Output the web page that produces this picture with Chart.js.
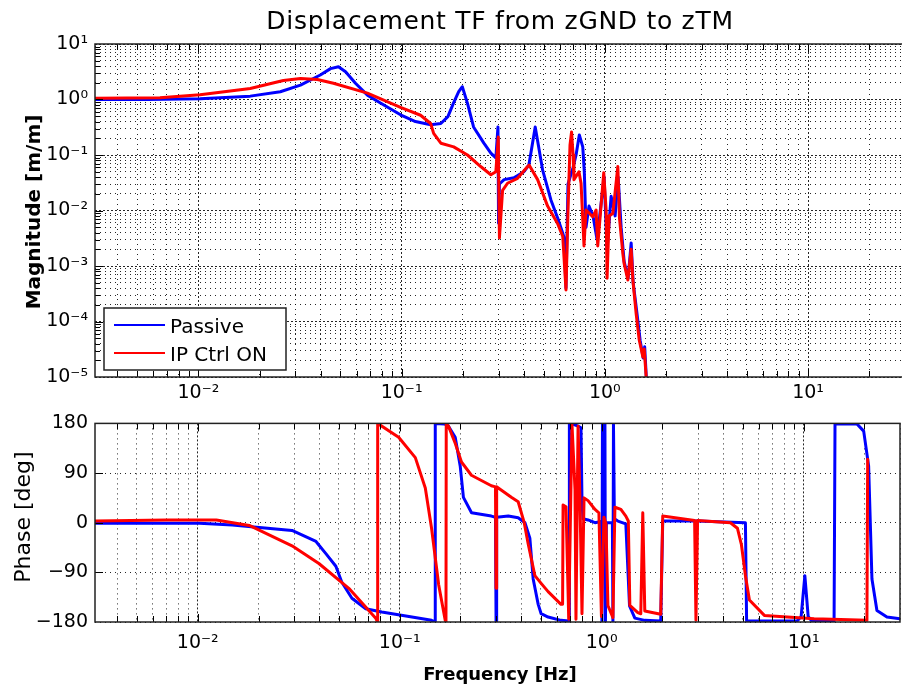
<!DOCTYPE html>
<html>
<head>
<meta charset="UTF-8">
<title>Displacement TF from zGND to zTM</title>
<script src="https://cdn.jsdelivr.net/npm/chart.js"></script>
<style>
    html, body { margin: 0; padding: 0; background: #fff; overflow: hidden; }
    #wrap { position: relative; width: 902px; height: 688px; overflow: hidden; }
    canvas { position: absolute; left: 0; }
    #magChart { top: 0; }
    #phaseChart { top: 405px; }
</style>
</head>
<body>
<div id="wrap">
    <canvas id="magChart" width="910" height="405"></canvas>
    <canvas id="phaseChart" width="910" height="283"></canvas>
</div>
<script>
// ---- data ----
const freqMin = 0.0031;
const freqMax = 30;

// magnitude, Passive
const passiveMagFreq = [0.0031, 0.0056, 0.0102, 0.018, 0.0253, 0.0318, 0.0398, 0.0447, 0.0489, 0.053, 0.0593, 0.0679, 0.0787, 0.0988, 0.117, 0.139, 0.156, 0.169, 0.18, 0.191, 0.199, 0.211, 0.226, 0.254, 0.275, 0.291, 0.298, 0.300, 0.303, 0.3195, 0.357, 0.400, 0.423, 0.441, 0.4545, 0.469, 0.494, 0.543, 0.586, 0.621, 0.629, 0.644, 0.659, 0.698, 0.722, 0.749, 0.779, 0.793, 0.808, 0.836, 0.875, 0.916, 0.958, 0.992, 1.026, 1.074, 1.124, 1.163, 1.203, 1.245, 1.302, 1.348, 1.379, 1.443, 1.493, 1.545, 1.571, 1.616];
const passiveMag = [1.0, 1.0, 1.03, 1.15, 1.38, 1.82, 2.76, 3.6, 3.9, 3.16, 1.96, 1.2, 0.865, 0.53, 0.40, 0.35, 0.37, 0.49, 0.86, 1.38, 1.7, 0.85, 0.32, 0.164, 0.108, 0.089, 0.32, 0.0059, 0.03, 0.036, 0.039, 0.05, 0.066, 0.164, 0.32, 0.164, 0.054, 0.0155, 0.0073, 0.0039, 0.0033, 0.0004, 0.03, 0.06, 0.1, 0.23, 0.14, 0.048, 0.005, 0.012, 0.008, 0.003, 0.013, 0.04, 0.002, 0.018, 0.008, 0.04, 0.005, 0.0012, 0.0006, 0.0026, 0.0005, 0.00013, 4.5e-5, 2.2e-5, 3.5e-5, 5e-6];

// magnitude, IP Ctrl ON
const ctrlMagFreq = [0.0031, 0.00647, 0.0102, 0.018, 0.0262, 0.0318, 0.0385, 0.0462, 0.0679, 0.0988, 0.124, 0.139, 0.1438, 0.156, 0.1805, 0.211, 0.245, 0.275, 0.291, 0.299, 0.303, 0.314, 0.332, 0.372, 0.417, 0.424, 0.467, 0.523, 0.586, 0.621, 0.644, 0.659, 0.674, 0.686, 0.698, 0.705, 0.746, 0.764, 0.790, 0.808, 0.872, 0.906, 0.923, 0.958, 0.988, 1.015, 1.026, 1.05, 1.095, 1.159, 1.180, 1.226, 1.245, 1.298, 1.348, 1.374, 1.427, 1.476, 1.539, 1.562, 1.598, 1.625];
const ctrlMag = [1.05, 1.08, 1.22, 1.58, 2.2, 2.4, 2.3, 1.96, 1.3, 0.72, 0.52, 0.37, 0.245, 0.163, 0.14, 0.10, 0.062, 0.044, 0.05, 0.21, 0.0032, 0.023, 0.031, 0.038, 0.062, 0.066, 0.036, 0.012, 0.0058, 0.0034, 0.00037, 0.01, 0.15, 0.26, 0.1, 0.036, 0.05, 0.031, 0.0023, 0.0102, 0.0077, 0.0102, 0.0023, 0.012, 0.048, 0.0102, 0.0006, 0.008, 0.0088, 0.062, 0.0075, 0.0017, 0.0011, 0.00056, 0.002, 0.00056, 0.000136, 4.7e-5, 2.3e-5, 3.2e-5, 1e-5, 3e-6];

// phase, Passive
const passivePhaseFreq = [0.0031, 0.0102, 0.01483, 0.0293, 0.0385, 0.0431, 0.0483, 0.0517, 0.058, 0.0679, 0.0815, 0.1438, 0.1496, 0.150, 0.1667, 0.1744, 0.1883, 0.1993, 0.2068, 0.2268, 0.2843, 0.298, 0.300, 0.302, 0.345, 0.386, 0.417, 0.441, 0.458, 0.485, 0.5016, 0.543, 0.629, 0.690, 0.692, 0.730, 0.764, 0.790, 0.799, 0.808, 0.856, 0.927, 0.992, 1.003, 1.009, 1.038, 1.044, 1.055, 1.098, 1.130, 1.137, 1.144, 1.156, 1.203, 1.317, 1.374, 1.46, 1.635, 1.961, 2.006, 2.985, 5.15, 5.22, 9.29, 9.72, 10.14, 10.53, 10.95, 14.15, 14.3, 18.37, 19.83, 20.98, 21.79, 23.06, 25.84, 30];
const passivePhase = [-1, -1, -4, -14, -34, -56, -79, -108, -137, -156, -162, -177, -180, 180, 179, 175, 155, 103, 46, 18, 12, 10, -178, 10, 12, 9, 0, -28, -102, -148, -165, -171, -177, -178, 180, 178, 175, 172, 40, 7, 5, 0, 2, -179, 179, 179, -179, 0, 0, 0, -179, 179, 7, 3, -2, -151, -173, -177, -178, 3, 3, 0, -178, -178, -170, -96, -170, -178, -178, 179, 179, 166, 103, -102, -159, -171, -174];

// phase, IP Ctrl ON
const ctrlPhaseFreq = [0.0031, 0.00701, 0.01236, 0.018, 0.0293, 0.0398, 0.056, 0.0761, 0.0776, 0.0778, 0.0988, 0.1195, 0.1339, 0.1438, 0.156, 0.168, 0.1695, 0.1700, 0.1744, 0.1883, 0.2022, 0.2265, 0.2843, 0.298, 0.300, 0.302, 0.3078, 0.357, 0.386, 0.4135, 0.433, 0.467, 0.5016, 0.543, 0.629, 0.6405, 0.644, 0.666, 0.687, 0.713, 0.738, 0.746, 0.764, 0.781, 0.799, 0.818, 0.856, 0.927, 0.969, 0.9975, 1.026, 1.05, 1.074, 1.137, 1.163, 1.245, 1.317, 1.355, 1.379, 1.51, 1.562, 1.598, 1.635, 1.961, 2.006, 2.885, 2.93, 2.985, 4.34, 4.70, 4.92, 5.15, 5.39, 6.39, 11.27, 20.58, 20.75];
const ctrlPhase = [3, 5, 5, -5, -42, -74, -119, -173, -180, 180, 155, 118, 63, -10, -113, -177, -180, 180, 175, 144, 110, 86, 67, 65, -119, 65, 63, 46, 38, 0, -39, -96, -110, -125, -148, -148, 32, 29, -175, 178, 60, -175, 175, 40, -165, 45, 40, 24, 18, -170, 10, -2, -150, -172, 28, 24, 12, 3, -150, -163, -165, 18, -160, -166, 12, 4, -177, 4, 0, -10, -40, -96, -140, -168, -174, -177, 115];

// tick labels
const freqTickValues = [0.01, 0.1, 1, 10];
const freqTickLabels = ['10\u207B\u00B2', '10\u207B\u00B9', '10\u2070', '10\u00B9'];
const magTickValues = [1e-5, 1e-4, 1e-3, 1e-2, 1e-1, 1, 10];
const magTickLabels = ['10\u207B\u2075', '10\u207B\u2074', '10\u207B\u00B3', '10\u207B\u00B2', '10\u207B\u00B9', '10\u2070', '10\u00B9'];
const phaseTickValues = [-180, -90, 0, 90, 180];
const phaseTickLabels = ['\u2212180', '\u221290', '0', '90', '180'];

const seriesNames = ['Passive', 'IP Ctrl ON'];
const blue = 'rgb(0,0,255)';
const red = 'rgb(255,0,0)';

Chart.defaults.font.family = 'DejaVu Sans';
Chart.defaults.color = '#000';

function points(xs, ys) {
    return xs.map((x, i) => ({ x: x, y: ys[i] }));
}

// every 1..9 x decade between lo and hi, for the log grid
function logGrid(lo, hi) {
    const out = [];
    for (let d = -6; d <= 2; d++) {
        for (let m = 1; m <= 9; m++) {
            const v = +(m * Math.pow(10, d)).toPrecision(3);
            if (v >= lo * 0.999 && v <= hi * 1.001) out.push(v);
        }
    }
    return out;
}

function isDecade(v) {
    const l = Math.log10(v);
    return Math.abs(l - Math.round(l)) < 1e-6;
}

function labelFrom(values, labels) {
    return function (value) {
        const i = values.findIndex(t => Math.abs(t - value) <= Math.abs(t) * 1e-6 + 1e-12);
        return i >= 0 ? labels[i] : '';
    };
}

// draws the box, inward tick marks, texts and legend
const decorPlugin = {
    id: 'decor',
    afterDraw(chart, args, opts) {
        const ctx = chart.ctx;
        const a = chart.chartArea;
        const xs = chart.scales.x;
        const ys = chart.scales.y;
        ctx.save();
        ctx.setLineDash([]);
        ctx.strokeStyle = '#000';
        ctx.lineWidth = 1;
        xs.ticks.forEach(t => {
            const px = Math.round(xs.getPixelForValue(t.value)) + 0.5;
            if (px < a.left + 1 || px > a.right - 1) return;
            const len = isDecade(t.value) ? 8 : 6;
            ctx.beginPath();
            ctx.moveTo(px, a.bottom); ctx.lineTo(px, a.bottom - len);
            ctx.moveTo(px, a.top); ctx.lineTo(px, a.top + len);
            ctx.stroke();
        });
        ys.ticks.forEach(t => {
            const py = Math.round(ys.getPixelForValue(t.value)) + 0.5;
            if (py < a.top + 1 || py > a.bottom - 1) return;
            const len = opts.logY && !isDecade(t.value) ? 5 : 8;
            ctx.beginPath();
            ctx.moveTo(a.left, py); ctx.lineTo(a.left + len, py);
            ctx.stroke();
        });
        ctx.lineWidth = 1.5;
        ctx.strokeStyle = '#222';
        ctx.strokeRect(a.left, a.top, a.right - a.left, a.bottom - a.top);

        (opts.texts || []).forEach(it => {
            ctx.save();
            ctx.font = it.font;
            ctx.fillStyle = '#000';
            ctx.textAlign = 'center';
            ctx.textBaseline = 'alphabetic';
            if (it.spacing) ctx.letterSpacing = it.spacing;
            ctx.translate(it.x, it.y);
            if (it.rotate) ctx.rotate(it.rotate);
            ctx.fillText(it.text, 0, 0);
            ctx.restore();
        });

        if (opts.legend) {
            const L = opts.legend;
            ctx.fillStyle = '#fff';
            ctx.fillRect(L.left, L.top, L.width, L.height);
            ctx.lineWidth = 1.5;
            ctx.strokeStyle = '#222';
            ctx.strokeRect(L.left, L.top, L.width, L.height);
            ctx.font = L.font;
            ctx.textAlign = 'left';
            ctx.textBaseline = 'alphabetic';
            chart.data.datasets.forEach((ds, i) => {
                const y = L.rows[i];
                ctx.strokeStyle = ds.borderColor;
                ctx.lineWidth = 2;
                ctx.beginPath();
                ctx.moveTo(L.left + 10, y); ctx.lineTo(L.left + 61, y);
                ctx.stroke();
                ctx.fillStyle = '#000';
                ctx.fillText(ds.label, L.left + 66, y + 8);
            });
        }
        ctx.restore();
    }
};

const lineStyle = {
    showLine: true,
    pointRadius: 0,
    borderWidth: 3,
    tension: 0,
    fill: false,
    borderJoinStyle: 'round',
    borderCapStyle: 'round'
};

function freqAxis(padding) {
    return {
        type: 'logarithmic',
        min: freqMin,
        max: freqMax,
        afterBuildTicks: s => { s.ticks = logGrid(freqMin, freqMax).map(v => ({ value: v })); },
        afterFit: s => { s.height = padding.h; },
        ticks: {
            autoSkip: false,
            maxRotation: 0,
            padding: padding.p,
            font: { size: 19 },
            callback: labelFrom(freqTickValues, freqTickLabels)
        },
        grid: { drawTicks: false, color: 'rgba(0,0,0,0.85)', lineWidth: 1 },
        border: { display: false, dash: c => (c.tick && isDecade(c.tick.value)) ? [2, 2] : [1, 4] }
    };
}

const magCtx = document.getElementById('magChart').getContext('2d');
new Chart(magCtx, {
    type: 'scatter',
    data: {
        datasets: [
            Object.assign({ label: seriesNames[0], data: points(passiveMagFreq, passiveMag), borderColor: blue, backgroundColor: blue, order: 2 }, lineStyle),
            Object.assign({ label: seriesNames[1], data: points(ctrlMagFreq, ctrlMag), borderColor: red, backgroundColor: red, order: 1 }, lineStyle)
        ]
    },
    options: {
        responsive: false,
        animation: false,
        devicePixelRatio: 1,
        events: [],
        layout: { padding: { top: 44, left: 0, right: 5, bottom: 0 } },
        scales: {
            x: freqAxis({ h: 28, p: 5 }),
            y: {
                type: 'logarithmic',
                min: 1e-5,
                max: 10,
                afterBuildTicks: s => { s.ticks = logGrid(1e-5, 10).map(v => ({ value: v })); },
                afterFit: s => { s.width = 95; },
                ticks: {
                    autoSkip: false,
                    padding: 7,
                    font: { size: 19 },
                    callback: labelFrom(magTickValues, magTickLabels)
                },
                grid: { drawTicks: false, color: 'rgba(0,0,0,0.85)', lineWidth: 1 },
                border: { display: false, dash: c => (c.tick && isDecade(c.tick.value)) ? [2, 2] : [1, 4] }
            }
        },
        plugins: {
            legend: { display: false },
            tooltip: { enabled: false },
            decor: {
                logY: true,
                texts: [
                    { text: 'Displacement TF from zGND to zTM', x: 500, y: 29, font: '25px "DejaVu Sans"', spacing: '0.7px' },
                    { text: 'Magnitude [m/m]', x: 40, y: 212, rotate: -Math.PI / 2, font: 'bold 20px "DejaVu Sans"' }
                ],
                legend: { left: 104, top: 308, width: 182, height: 62, rows: [325, 353], font: '20px "DejaVu Sans"' }
            }
        }
    },
    plugins: [decorPlugin]
});

const phaseCtx = document.getElementById('phaseChart').getContext('2d');
new Chart(phaseCtx, {
    type: 'scatter',
    data: {
        datasets: [
            Object.assign({ label: seriesNames[0], data: points(passivePhaseFreq, passivePhase), borderColor: blue, backgroundColor: blue, order: 2 }, lineStyle),
            Object.assign({ label: seriesNames[1], data: points(ctrlPhaseFreq, ctrlPhase), borderColor: red, backgroundColor: red, order: 1 }, lineStyle)
        ]
    },
    options: {
        responsive: false,
        animation: false,
        devicePixelRatio: 1,
        events: [],
        layout: { padding: { top: 7, left: 0, right: 5, bottom: 0 } },
        scales: {
            x: freqAxis({ h: 66, p: 10 }),
            y: {
                type: 'linear',
                min: -180,
                max: 180,
                afterBuildTicks: s => { s.ticks = phaseTickValues.map(v => ({ value: v })); },
                afterFit: s => { s.width = 95; },
                ticks: {
                    autoSkip: false,
                    padding: 7,
                    font: { size: 19 },
                    callback: labelFrom(phaseTickValues, phaseTickLabels)
                },
                grid: { drawTicks: false, color: 'rgba(0,0,0,0.85)', lineWidth: 1 },
                border: { display: false, dash: [1, 4] }
            }
        },
        plugins: {
            legend: { display: false },
            tooltip: { enabled: false },
            decor: {
                logY: false,
                texts: [
                    { text: 'Phase [deg]', x: 30, y: 112, rotate: -Math.PI / 2, font: '22px "DejaVu Sans"' },
                    { text: 'Frequency [Hz]', x: 500, y: 275, font: 'bold 18px "DejaVu Sans"' }
                ]
            }
        }
    },
    plugins: [decorPlugin]
});
</script>
</body>
</html>
